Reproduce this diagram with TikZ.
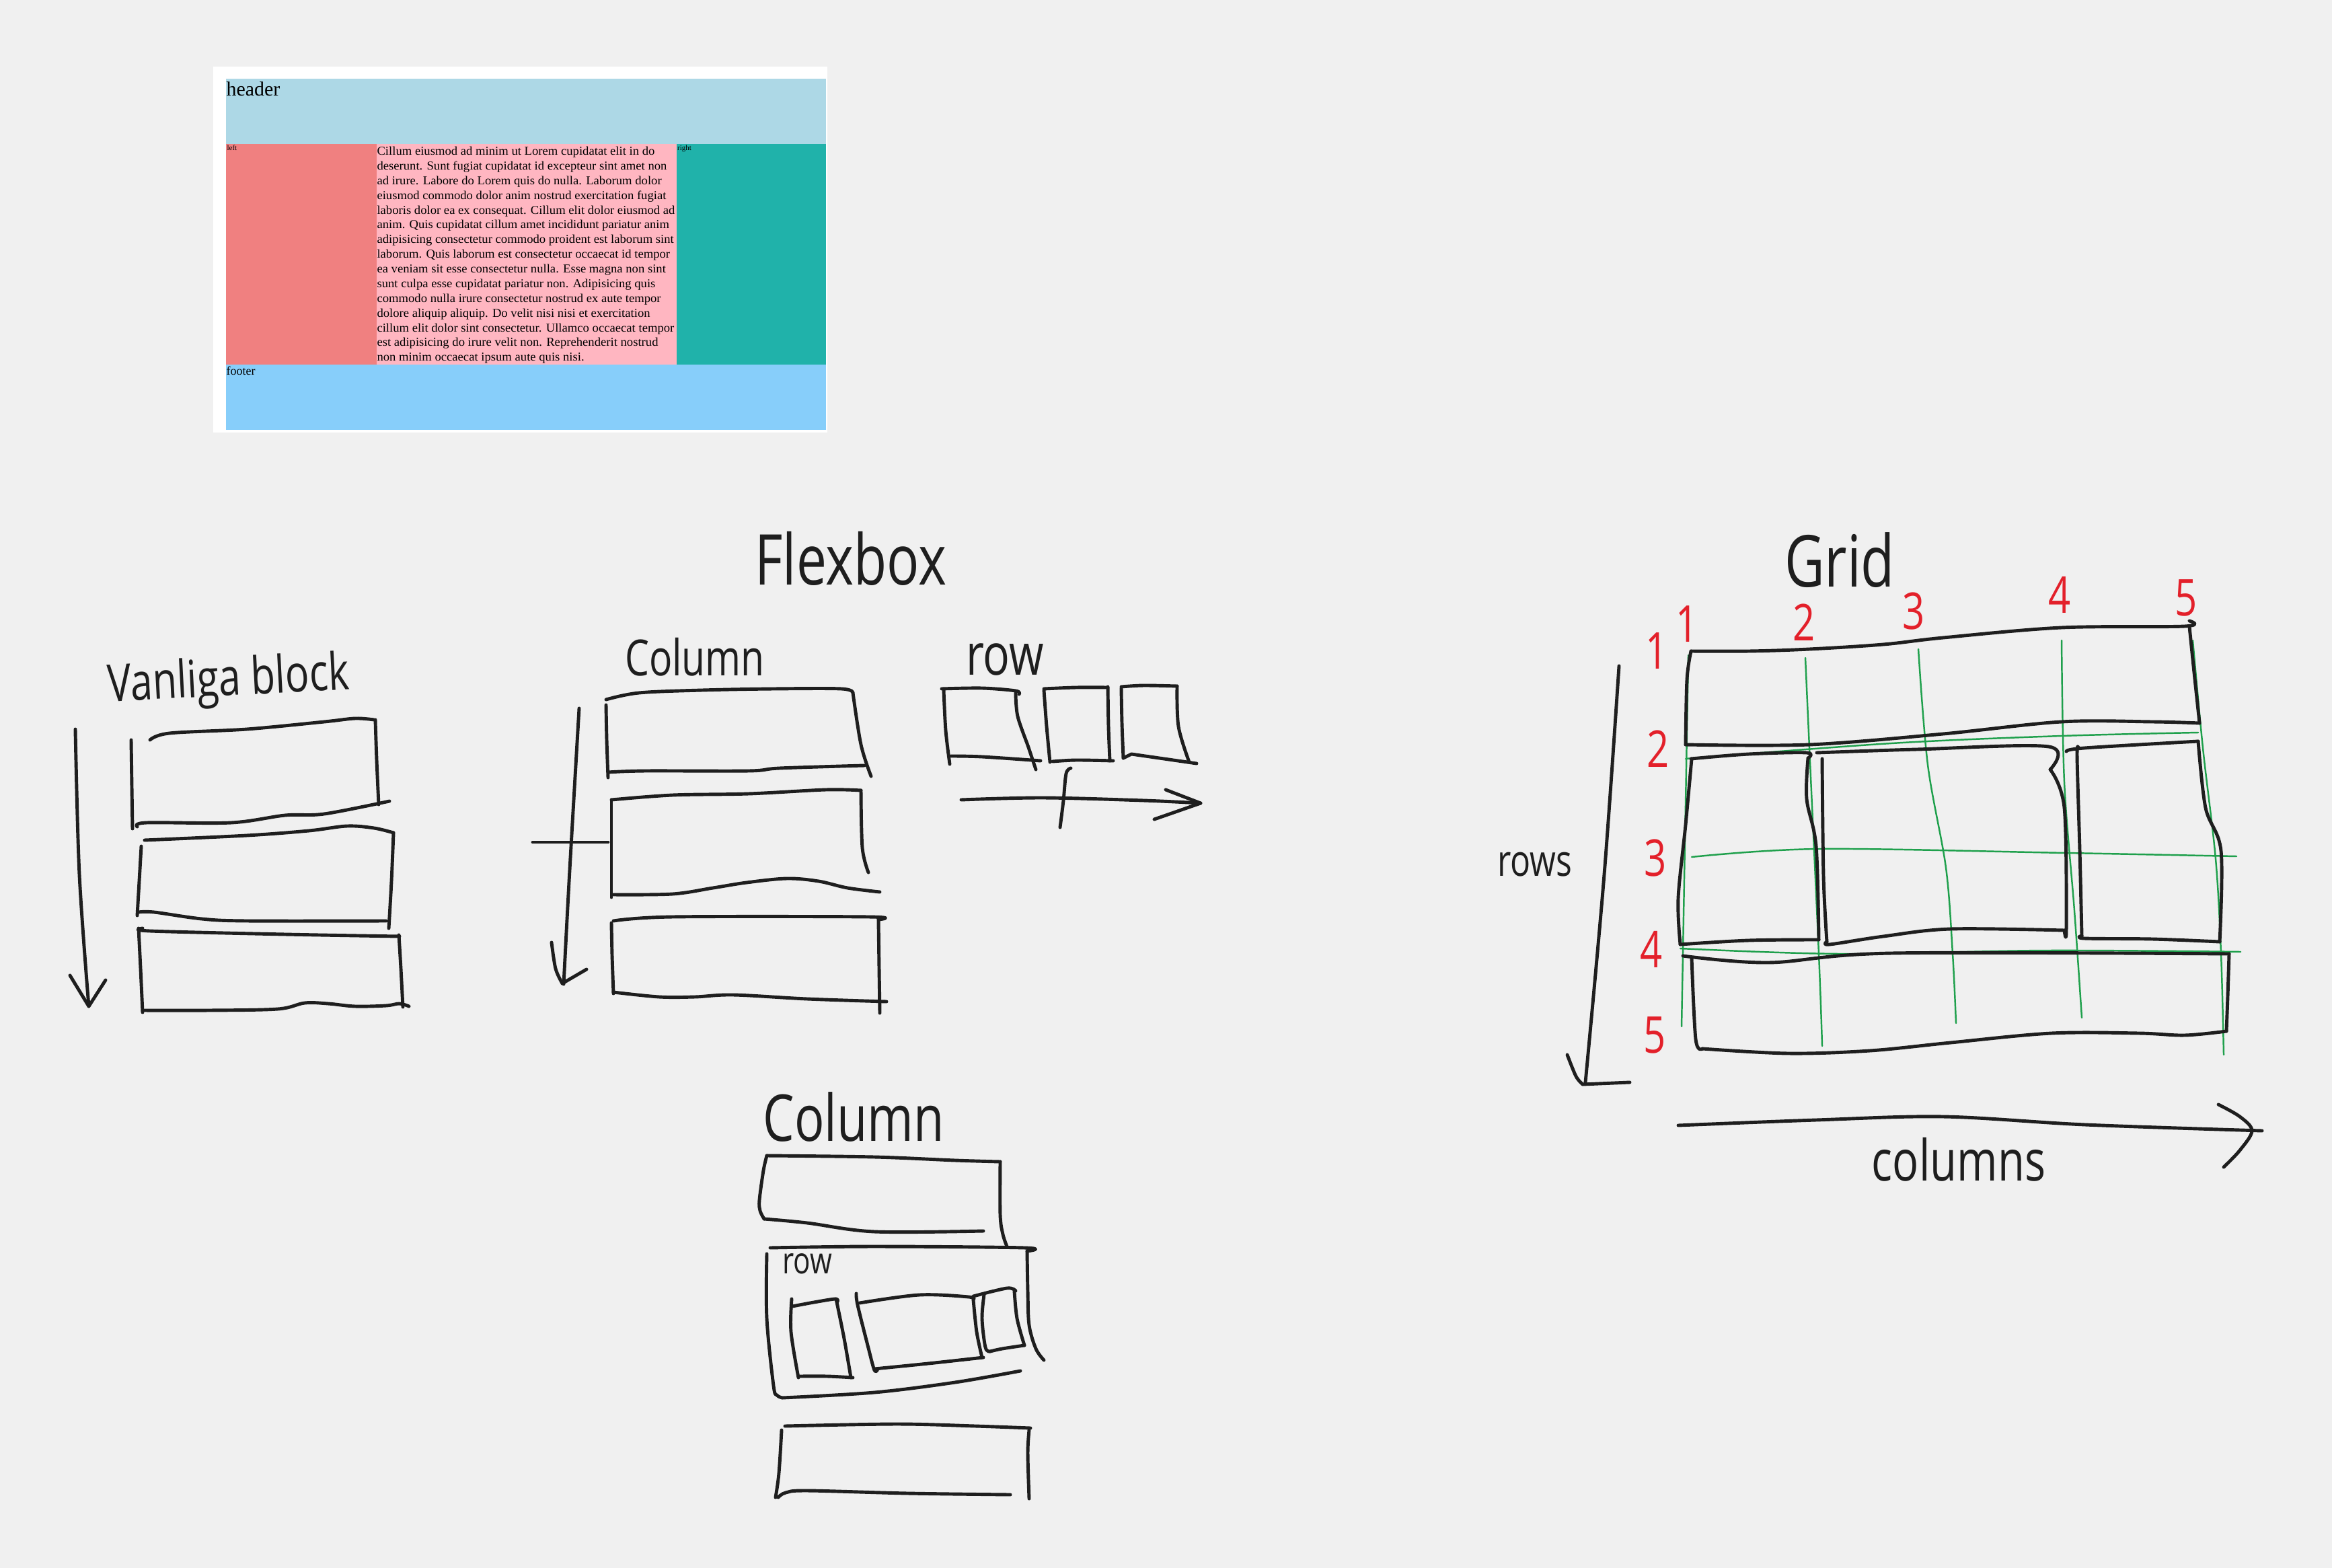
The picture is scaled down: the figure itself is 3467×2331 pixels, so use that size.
\documentclass[tikz,border=0pt]{standalone}
\usepackage{fontspec}
\usepackage{graphicx}
\newfontfamily\webserif{Liberation Serif}
\newfontfamily\handfont{Open Sans}
\definecolor{bg}{HTML}{F0F0F0}
\definecolor{ink}{HTML}{1E1E1E}
\definecolor{penred}{HTML}{E3202A}
\definecolor{pengreen}{HTML}{1FA04C}
\definecolor{hdr}{HTML}{ADD8E6}
\definecolor{lft}{HTML}{F08080}
\definecolor{mid}{HTML}{FFB6C1}
\definecolor{rgt}{HTML}{20B2AA}
\definecolor{ftr}{HTML}{87CEFA}
\newcommand{\strk}[1]{\draw[pen] plot[smooth, tension=0.55] coordinates {#1};}
\newcommand{\gstrk}[1]{\draw[grn] plot[smooth, tension=0.55] coordinates {#1};}
\newcommand{\hw}[1]{\scalebox{1}[1.3]{#1}}
\tikzset{
  pen/.style={draw=ink, line width=1.4pt, line cap=round, line join=round},
  grn/.style={draw=pengreen, line width=0.7pt, line cap=round, line join=round},
  hand/.style={text=ink, inner sep=0pt, anchor=center},
  rednum/.style={text=penred, inner sep=0pt, anchor=center, font=\handfont\fontsize{16.5pt}{18pt}\selectfont},
  web/.style={inner sep=0pt, anchor=base west, text=black},
}
\begin{document}
\begin{tikzpicture}[x=0.01cm, y=-0.01cm]
\useasboundingbox (0,0) rectangle (3467,2331);
\fill[bg] (0,0) rectangle (3467,2331);

% ---------- web screenshot ----------
\fill[white] (317,99) rectangle (1230,643);
\fill[hdr] (336,117) rectangle (1228,214);
\fill[lft] (336,214) rectangle (559.5,542);
\fill[mid] (559.5,214) rectangle (1006,542);
\fill[rgt] (1006,214) rectangle (1228,542);
\fill[ftr] (336,542) rectangle (1228,639);
\node[web, font=\webserif\fontsize{8.5pt}{10pt}\selectfont] (hdrtxt) at (336,143) {header};
\node[web, font=\webserif\fontsize{3.1pt}{4pt}\selectfont] (lfttxt) at (337,224) {left};
\node[web, font=\webserif\fontsize{3.1pt}{4pt}\selectfont] (rgttxt) at (1006.5,224) {right};
\node[web, font=\webserif\fontsize{5.1pt}{6pt}\selectfont] (ftrtxt) at (336,557.5) {footer};
\foreach \t [count=\i] in {
 {Cillum eiusmod ad minim ut Lorem cupidatat elit in do},
 {deserunt. Sunt fugiat cupidatat id excepteur sint amet non},
 {ad irure. Labore do Lorem quis do nulla. Laborum dolor},
 {eiusmod commodo dolor anim nostrud exercitation fugiat},
 {laboris dolor ea ex consequat. Cillum elit dolor eiusmod ad},
 {anim. Quis cupidatat cillum amet incididunt pariatur anim},
 {adipisicing consectetur commodo proident est laborum sint},
 {laborum. Quis laborum est consectetur occaecat id tempor},
 {ea veniam sit esse consectetur nulla. Esse magna non sint},
 {sunt culpa esse cupidatat pariatur non. Adipisicing quis},
 {commodo nulla irure consectetur nostrud ex aute tempor},
 {dolore aliquip aliquip. Do velit nisi nisi et exercitation},
 {cillum elit dolor sint consectetur. Ullamco occaecat tempor},
 {est adipisicing do irure velit non. Reprehenderit nostrud},
 {non minim occaecat ipsum aute quis nisi.}}
 \node[web, font=\webserif\fontsize{5.1pt}{6pt}\selectfont] (body\i) at (559.8,{230.7+21.86*(\i-1)}) {\scalebox{1.04}[1]{\t}};

% ---------- titles ----------
\node[hand, font=\handfont\fontsize{22.8pt}{26pt}\selectfont] (flextitle) at (1265,830) {\hw{Flexbox}};
\node[hand, font=\handfont\fontsize{23.3pt}{26pt}\selectfont] (gridtitle) at (2735,833) {\hw{Grid}};
\node[hand, font=\handfont\fontsize{16.8pt}{20pt}\selectfont, rotate=3] (vanliga) at (340,1014) {\hw{Vanliga block}};
\node[hand, font=\handfont\fontsize{16.2pt}{20pt}\selectfont] (coltitle) at (1033,977) {\hw{Column}};
\node[hand, font=\handfont\fontsize{18.8pt}{20pt}\selectfont] (rowtitle) at (1494,980) {\hw{row}};
\node[hand, font=\handfont\fontsize{21pt}{24pt}\selectfont] (col2title) at (1269,1660) {\hw{Column}};
\node[hand, font=\handfont\fontsize{12pt}{14pt}\selectfont] (rowinner) at (1200,1879) {\hw{row}};
\node[hand, font=\handfont\fontsize{14.2pt}{16pt}\selectfont] (rowslbl) at (2282,1285) {\hw{rows}};
\node[hand, font=\handfont\fontsize{18.5pt}{20pt}\selectfont] (colslbl) at (2912,1724) {\hw{columns}};

% ---------- Vanliga block ----------
\strk{(112,1084) (118,1300) (132,1496)}
\draw[pen] (104,1450) -- (132,1496) -- (157,1457);
% box 1
\strk{(195,1100) (196,1170) (197,1232)}
\strk{(223,1100) (252,1090) (367,1084) (482,1073) (528,1068) (556,1070)}
\strk{(558,1070) (560,1130) (563,1196)}
\strk{(204,1229) (218,1223) (344,1223) (424,1212) (482,1210) (579,1191)}
% box 2
\strk{(215,1249) (367,1242) (459,1235) (516,1228) (556,1231) (585,1238)}
\strk{(585,1238) (582,1310) (578,1380)}
\strk{(210,1258) (207,1310) (204,1361)}
\strk{(206,1356) (229,1356) (300,1366) (367,1369) (574,1369)}
% box 3
\strk{(212,1380) (223,1384) (424,1389) (594,1392)}
\strk{(593,1390) (596,1440) (599,1497)}
\strk{(206,1380) (209,1440) (212,1505)}
\strk{(212,1502) (310,1502) (413,1500) (453,1491) (488,1492) (528,1496) (574,1495) (594,1492) (608,1496)}

% ---------- Column ----------
\strk{(861,1053) (847,1293) (838,1463)}
\strk{(820,1401) (826,1440) (836,1462)}
\draw[pen] (836,1462) -- (872,1441);
\draw[pen] (792,1252) -- (904,1252);
% box 1
\strk{(901,1040) (950,1030) (1044,1026) (1150,1024) (1251,1024) (1268,1030)}
\strk{(1268,1030) (1280,1107) (1295,1154)}
\strk{(901,1048) (902,1100) (904,1156)}
\strk{(904,1148) (960,1146) (1113,1146) (1159,1142) (1285,1138)}
% box 2
\strk{(909,1189) (1000,1182) (1113,1180) (1228,1174) (1280,1175)}
\strk{(1280,1175) (1282,1260) (1291,1297)}
\strk{(909,1189) (909,1260) (909,1334)}
\strk{(912,1330) (1000,1329) (1060,1320) (1110,1312) (1170,1306) (1217,1310) (1260,1320) (1308,1326)}
% box 3
\strk{(912,1369) (1000,1363) (1291,1363) (1306,1367)}
\strk{(1306,1367) (1307,1440) (1308,1506)}
\strk{(909,1372) (910,1420) (912,1477)}
\strk{(912,1475) (980,1482) (1033,1482) (1090,1479) (1200,1485) (1318,1489)}

% ---------- row ----------
\strk{(1400,1024) (1460,1023) (1510,1027) (1515,1032)}
\strk{(1403,1026) (1406,1086) (1412,1136)}
\strk{(1510,1030) (1513,1065) (1529,1111) (1540,1144)}
\strk{(1414,1124) (1460,1125) (1547,1131)}
\strk{(1552,1026) (1556,1080) (1561,1133)}
\strk{(1552,1024) (1600,1022) (1647,1022)}
\strk{(1647,1021) (1648,1080) (1650,1131)}
\strk{(1565,1132) (1600,1130) (1655,1131)}
\strk{(1667,1023) (1668,1075) (1670,1127)}
\strk{(1667,1021) (1700,1019) (1750,1020)}
\strk{(1750,1020) (1752,1080) (1768,1133)}
\draw[pen] (1670,1127) -- (1682,1121) -- (1779,1135);
\strk{(1429,1189) (1550,1186) (1700,1190) (1785,1194)}
\draw[pen] (1733,1174) -- (1785,1194) -- (1716,1218);
\strk{(1592,1142) (1585,1150) (1581,1190) (1576,1230)}

% ---------- Column (bottom) ----------
\strk{(1140,1718) (1300,1720) (1420,1725) (1487,1727)}
\strk{(1140,1718) (1135,1740) (1129,1784) (1130,1800) (1136,1812)}
\strk{(1136,1812) (1200,1818) (1300,1831) (1462,1830)}
\strk{(1487,1727) (1487,1806) (1491,1835) (1497,1853)}
\strk{(1145,1855) (1300,1853) (1523,1855) (1527,1860)}
\strk{(1527,1860) (1528,1920) (1530,1970) (1540,2005) (1552,2022)}
\strk{(1140,1864) (1140,1960) (1150,2060) (1155,2074) (1163,2078)}
\strk{(1163,2078) (1300,2070) (1420,2055) (1517,2038)}
% inner boxes
\strk{(1177,1931) (1176,1980) (1187,2048)}
\strk{(1178,1942) (1210,1936) (1242,1931) (1245,1935)}
\strk{(1243,1931) (1255,1990) (1265,2048)}
\strk{(1187,2046) (1230,2046) (1268,2048)}
\strk{(1273,1923) (1275,1940) (1290,2000) (1300,2037) (1305,2035)}
\strk{(1278,1937) (1367,1925) (1440,1928) (1447,1932)}
\strk{(1447,1932) (1452,1980) (1460,2018)}
\strk{(1300,2035) (1380,2027) (1462,2018)}
\strk{(1463,1925) (1460,1960) (1465,2003) (1472,2009)}
\strk{(1447,1927) (1497,1915) (1510,1919)}
\strk{(1508,1919) (1512,1960) (1523,2000)}
\strk{(1472,2009) (1490,2005) (1523,2000)}
% box 3
\strk{(1167,2120) (1333,2117) (1450,2120) (1532,2123)}
\strk{(1530,2126) (1528,2160) (1530,2228)}
\strk{(1162,2126) (1158,2190) (1153,2226)}
\strk{(1157,2226) (1168,2219) (1200,2216) (1350,2220) (1502,2222)}

% ---------- Grid ----------
% green grid lines
\gstrk{(2510,974) (2505,1250) (2500,1526)}
\gstrk{(2684,978) (2690,1112) (2704,1418) (2709,1555)}
\gstrk{(2852,965) (2866,1137) (2893,1290) (2903,1418) (2908,1521)}
\gstrk{(3065,952) (3069,1163) (3084,1354) (3095,1513)}
\gstrk{(3260,952) (3275,1112) (3294,1277) (3302,1418) (3306,1568)}
\gstrk{(2506,1128) (2812,1105) (3065,1094) (3268,1089)}
\gstrk{(2515,1274) (2705,1262) (3072,1268) (3325,1273)}
\gstrk{(2498,1410) (2736,1418) (3042,1413) (3331,1415)}
% header box
\strk{(2514,968) (2600,968) (2690,965) (2800,958) (2889,948) (3065,933) (3248,931) (3255,923)}
\strk{(3255,932) (3262,1000) (3270,1075)}
\strk{(3270,1075) (3200,1073) (3065,1073) (2889,1091) (2690,1107) (2506,1107)}
\strk{(2506,1107) (2508,1010) (2514,968)}
% left box
\strk{(2514,1128) (2600,1121) (2686,1119) (2688,1127)}
\strk{(2688,1127) (2686,1188) (2700,1258) (2704,1397)}
\strk{(2704,1397) (2600,1398) (2498,1404)}
\strk{(2498,1404) (2495,1335) (2506,1226) (2515,1128)}
% middle box
\strk{(2701,1119) (2850,1114) (3046,1110) (3048,1144)}
\strk{(3048,1144) (3069,1201) (3072,1380) (3069,1383)}
\strk{(3069,1383) (2900,1381) (2800,1392) (2720,1404) (2716,1400)}
\strk{(2716,1400) (2711,1303) (2709,1128)}
% right box
\strk{(3072,1117) (3099,1112) (3268,1102)}
\strk{(3268,1102) (3279,1201) (3302,1265) (3300,1400)}
\strk{(3300,1400) (3200,1396) (3099,1395) (3095,1391)}
\strk{(3095,1391) (3092,1265) (3088,1125) (3090,1112)}
% footer box
\strk{(2502,1421) (2629,1431) (2812,1417) (3314,1418)}
\strk{(3314,1418) (3312,1480) (3310,1533)}
\strk{(3310,1533) (3248,1539) (3180,1536) (3050,1536) (2900,1550) (2780,1562) (2659,1566) (2531,1559)}
\strk{(2531,1559) (2521,1545) (2515,1424)}
% axes
\strk{(2407,990) (2385,1300) (2357,1609)}
\strk{(2330,1568) (2343,1600) (2353,1612)}
\draw[pen] (2353,1612) -- (2423,1609);
\strk{(2495,1673) (2700,1665) (2889,1660) (3100,1672) (3363,1681)}
\strk{(3298,1642) (3330,1660) (3348,1681) (3330,1710) (3306,1735)}
% red numbers
\node[rednum] (c1) at (2508,928) {\hw{1}};
\node[rednum] (c2) at (2682,925) {\hw{2}};
\node[rednum] (c3) at (2845,909) {\hw{3}};
\node[rednum] (c4) at (3062,884) {\hw{4}};
\node[rednum] (c5) at (3250,889) {\hw{5}};
\node[rednum] (r1) at (2463,968) {\hw{1}};
\node[rednum] (r2) at (2465,1113) {\hw{2}};
\node[rednum] (r3) at (2461,1276) {\hw{3}};
\node[rednum] (r4) at (2455,1411) {\hw{4}};
\node[rednum] (r5) at (2460,1539) {\hw{5}};
\end{tikzpicture}
\end{document}
